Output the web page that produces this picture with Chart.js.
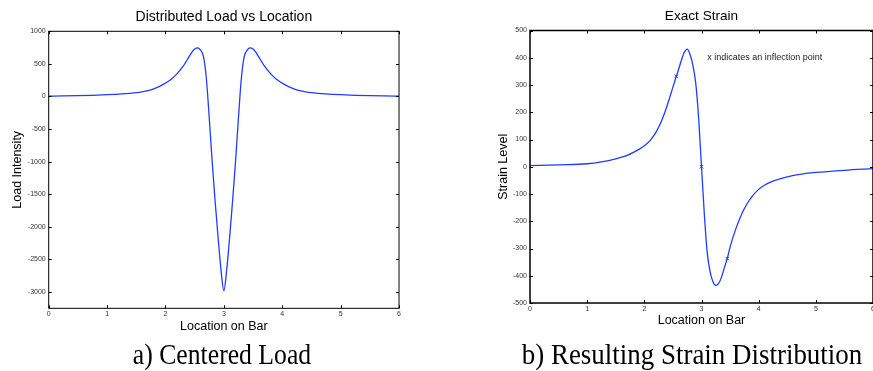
<!DOCTYPE html>
<html>
<head>
<meta charset="utf-8">
<script src="https://cdn.jsdelivr.net/npm/chart.js@4/dist/chart.umd.min.js"></script>
<style>
  html, body { margin: 0; padding: 0; background: #fff; }
  body { width: 873px; height: 371px; position: relative; overflow: hidden; }
  canvas { position: absolute; top: 0; }
  #c1 { left: 0; }
  #c2 { left: 440px; }
  .cap { position: absolute; font-family: "Liberation Serif", "Times New Roman", serif; font-size: 29px; line-height: 29px; color: #000; white-space: nowrap; transform-origin: center; }
  #capA { transform: translateX(-50%) scaleX(0.886); }
  #capB { transform: translateX(-50%) scaleX(0.929); }
</style>
</head>
<body>
<canvas id="c1" width="430" height="340"></canvas>
<canvas id="c2" width="438" height="340"></canvas>
<div class="cap" id="capA" style="left:222px; top:340px;">a) Centered Load</div>
<div class="cap" id="capB" style="left:692px; top:340px;">b) Resulting Strain Distribution</div>
<script>
// ---- data ----
const loadX = [0, 0.25, 0.5, 0.75, 1.0, 1.25, 1.5, 1.6, 1.7, 1.8, 1.9, 2.0, 2.1, 2.2, 2.3, 2.35, 2.4, 2.45, 2.5, 2.55, 2.6, 2.65, 2.7, 2.75, 2.8, 2.85, 2.9, 2.95, 3.0,
               3.05, 3.1, 3.15, 3.2, 3.25, 3.3, 3.35, 3.4, 3.45, 3.5, 3.55, 3.6, 3.65, 3.7, 3.8, 3.9, 4.0, 4.1, 4.2, 4.3, 4.4, 4.5, 4.75, 5.0, 5.25, 5.5, 5.75, 6.0];
const loadY = [5, 8, 12, 18, 27, 40, 60, 72, 90, 117, 155, 205, 265, 350, 460, 530, 605, 675, 727, 745, 712, 615, 280, -330, -1000, -1600, -2150, -2650, -2980,
               -2650, -2150, -1600, -1000, -330, 280, 615, 712, 745, 727, 675, 605, 530, 460, 350, 265, 205, 155, 117, 90, 72, 60, 40, 27, 18, 12, 8, 5];

const strainX = [0, 0.5, 1.0, 1.25, 1.5, 1.6, 1.7, 1.8, 1.9, 2.0, 2.1, 2.2, 2.3, 2.4, 2.5, 2.56, 2.6, 2.65, 2.7, 2.75, 2.8, 2.85, 2.9, 2.95, 3.0,
                 3.05, 3.1, 3.15, 3.2, 3.25, 3.3, 3.35, 3.4, 3.45, 3.5, 3.6, 3.7, 3.8, 3.9, 4.0, 4.1, 4.25, 4.5, 4.75, 5.0, 5.5, 6.0];
const strainY = [4, 7, 11, 18, 29, 35, 42, 52, 63, 77, 96, 125, 168, 225, 292, 332, 358, 392, 420, 432, 412, 372, 305, 178, 0,
                 -175, -315, -385, -422, -435, -428, -405, -370, -337, -295, -228, -175, -135, -105, -83, -68, -53, -37, -27, -21, -13, -7];

const inflectX = [2.56, 3.0, 3.45];
const inflectY = [332, 0, -337];

const xTicks = [0, 1, 2, 3, 4, 5, 6];
const loadTicks = [-3000, -2500, -2000, -1500, -1000, -500, 0, 500, 1000];
const strainTicks = [-500, -400, -300, -200, -100, 0, 100, 200, 300, 400, 500];

const loadTitle = "Distributed Load vs Location";
const strainTitle = "Exact Strain";
const xTitle = "Location on Bar";
const loadYTitle = "Load Intensity";
const strainYTitle = "Strain Level";
const noteText = "x indicates an inflection point";
const notePos = [3.1, 400];

// ---- helpers ----
const pts = (xs, ys) => xs.map((x, i) => ({ x: x, y: ys[i] }));
const BLUE = '#1f3cff';
const SANS = '"Liberation Sans", Arial, Helvetica, sans-serif';

const framePlugin = {
  id: 'frame',
  afterDraw(chart, args, o) {
    const { ctx, chartArea: a } = chart;
    const xs = chart.scales.x, ys = chart.scales.y;
    ctx.save();
    ctx.strokeStyle = '#000';
    ctx.lineWidth = 1;
    const L = 3;
    ctx.beginPath();
    xs.ticks.forEach(t => {
      const p = Math.round(xs.getPixelForValue(t.value)) + 0.5;
      ctx.moveTo(p, a.bottom); ctx.lineTo(p, a.bottom - L);
      ctx.moveTo(p, a.top); ctx.lineTo(p, a.top + L);
    });
    ys.ticks.forEach(t => {
      const p = Math.round(ys.getPixelForValue(t.value)) + 0.5;
      ctx.moveTo(a.left, p); ctx.lineTo(a.left + L, p);
      ctx.moveTo(a.right, p); ctx.lineTo(a.right - L, p);
    });
    ctx.stroke();
    ctx.lineWidth = o.lw;
    ctx.strokeRect(a.left, a.top, a.right - a.left, a.bottom - a.top);

    ctx.fillStyle = '#000';
    ctx.textAlign = 'center';
    ctx.textBaseline = 'middle';
    ctx.font = o.titleSize + 'px ' + SANS;
    ctx.fillText(o.title, (a.left + a.right) / 2, a.top - o.titleOff);
    ctx.font = o.axisSize + 'px ' + SANS;
    ctx.fillText(o.xTitle, (a.left + a.right) / 2, a.bottom + o.xTitleOff);
    ctx.save();
    ctx.translate(a.left - o.yTitleOff, (a.top + a.bottom) / 2);
    ctx.rotate(-Math.PI / 2);
    ctx.fillText(o.yTitle, 0, 0);
    ctx.restore();
    if (o.note) {
      ctx.font = o.noteSize + 'px ' + SANS;
      ctx.fillStyle = '#222';
      ctx.textAlign = 'left';
      ctx.fillText(o.note, xs.getPixelForValue(o.notePos[0]), ys.getPixelForValue(o.notePos[1]));
    }
    ctx.restore();
  }
};

function makeOptions(cfg) {
  return {
    responsive: false,
    animation: false,
    devicePixelRatio: 1,
    layout: { padding: cfg.padding },
    plugins: {
      legend: { display: false },
      tooltip: { enabled: false },
      frame: cfg.frame
    },
    scales: {
      x: {
        type: 'linear', min: 0, max: 6,
        afterBuildTicks: s => { s.ticks = xTicks.map(v => ({ value: v })); },
        afterFit: s => { s.height = cfg.xHeight; },
        grid: { display: false, drawTicks: false },
        border: { display: false },
        ticks: { font: { family: SANS, size: 7 }, color: '#333', padding: cfg.xPad, maxRotation: 0, autoSkip: false,
                 callback: v => String(v) }
      },
      y: {
        type: 'linear', min: cfg.ymin, max: cfg.ymax,
        afterBuildTicks: s => { s.ticks = cfg.yTicks.map(v => ({ value: v })); },
        afterFit: s => { s.width = cfg.yWidth; },
        grid: { display: false, drawTicks: false },
        border: { display: false },
        ticks: { font: { family: SANS, size: 7 }, color: '#333', padding: 3, autoSkip: false,
                 callback: v => String(v) }
      }
    }
  };
}

new Chart(document.getElementById('c1'), {
  type: 'line',
  data: {
    datasets: [{
      data: pts(loadX, loadY),
      borderColor: BLUE, borderWidth: 1.3, pointRadius: 0,
      cubicInterpolationMode: 'monotone', fill: false
    }]
  },
  options: makeOptions({
    padding: { top: 31.3, right: 31, left: 0, bottom: 0 },
    xHeight: 31.7, yWidth: 48.7, xPad: 2,
    ymin: -3250, ymax: 1000, yTicks: loadTicks,
    frame: { lw: 1, title: loadTitle, titleSize: 14, titleOff: 13.8,
             xTitle: xTitle, xTitleOff: 18.4, yTitle: loadYTitle, yTitleOff: 31, axisSize: 12.5 }
  }),
  plugins: [framePlugin]
});

new Chart(document.getElementById('c2'), {
  type: 'line',
  data: {
    datasets: [{
      data: pts(strainX, strainY),
      borderColor: BLUE, borderWidth: 1.3, pointRadius: 0,
      cubicInterpolationMode: 'monotone', fill: false
    }, {
      data: pts(inflectX, inflectY),
      showLine: false, pointStyle: 'crossRot', pointRadius: 2.5,
      pointBorderColor: BLUE, pointBorderWidth: 1, borderColor: BLUE
    }]
  },
  options: makeOptions({
    padding: { top: 30.5, right: 0.5, left: 0, bottom: 0 },
    xHeight: 37, yWidth: 90, xPad: 2,
    ymin: -500, ymax: 500, yTicks: strainTicks,
    frame: { lw: 1.5, title: strainTitle, titleSize: 13.6, titleOff: 13.8,
             xTitle: xTitle, xTitleOff: 17.7, yTitle: strainYTitle, yTitleOff: 26.7, axisSize: 12.5,
             note: noteText, notePos: notePos, noteSize: 9 }
  }),
  plugins: [framePlugin]
});
</script>
</body>
</html>
